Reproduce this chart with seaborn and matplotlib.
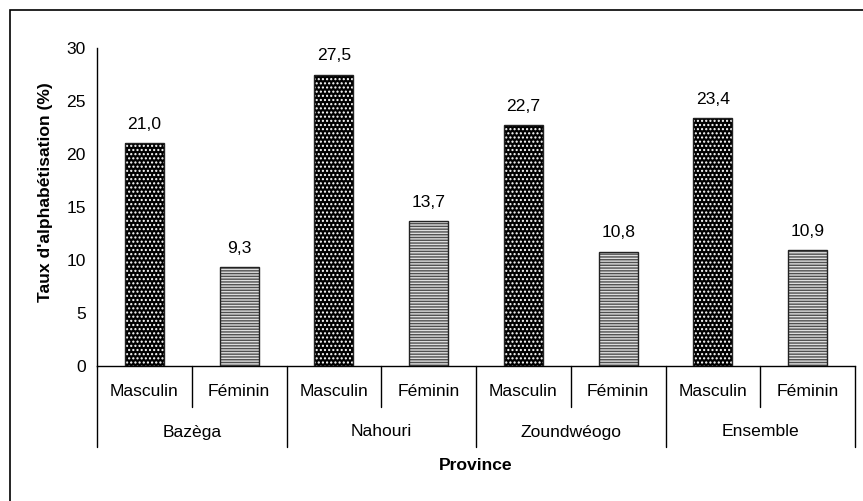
import matplotlib
matplotlib.use("Agg")
import matplotlib.pyplot as plt
from matplotlib.patches import Rectangle
import seaborn as sns
import pandas as pd

provinces = ["Bazèga", "Nahouri", "Zoundwéogo", "Ensemble"]
sexes = ["Masculin", "Féminin"]
masculin = [21.0, 27.5, 22.7, 23.4]
feminin = [9.3, 13.7, 10.8, 10.9]
yticks = [0, 5, 10, 15, 20, 25, 30]

rows = []
for p, m, f in zip(provinces, masculin, feminin):
    rows.append({"slot": f"{p}|Masculin", "sexe": "Masculin", "taux": m})
    rows.append({"slot": f"{p}|Féminin", "sexe": "Féminin", "taux": f})
df = pd.DataFrame(rows)
order = list(df["slot"])

sns.set_style("white")
plt.rcParams["font.family"] = ["Liberation Sans", "DejaVu Sans"]
plt.rcParams["hatch.linewidth"] = 1.0
plt.rcParams["text.color"] = "black"
plt.rcParams["axes.labelcolor"] = "black"
plt.rcParams["xtick.color"] = "black"
plt.rcParams["ytick.color"] = "black"
FS = 12.6

fig = plt.figure(figsize=(8.63, 5.01), dpi=100)
fig.patch.set_facecolor("white")
W, H = 863, 501
ax = fig.add_axes([97 / W, 1 - 366 / H, (855 - 97) / W, (366 - 48) / H])

sns.barplot(data=df, x="slot", y="taux", hue="sexe", order=order, hue_order=sexes,
            dodge=False, width=0.41, palette={"Masculin": "black", "Féminin": "#dedede"},
            legend=False, ax=ax, linewidth=0, saturation=1)

styles = {0: ("....", "white"), 1: ("------", "#505050")}
for ci, cont in enumerate(ax.containers):
    hatch, hc = styles[ci]
    for bar in cont:
        bar.set_hatch(hatch)
        bar.set_edgecolor(hc)
        bar.set_linewidth(0)
        ax.add_patch(Rectangle(bar.get_xy(), bar.get_width(), bar.get_height(),
                               fill=False, edgecolor="#222222", linewidth=1.0, zorder=3))
        v = bar.get_height()
        ax.annotate(f"{v:.1f}".replace(".", ","), (bar.get_x() + bar.get_width() / 2, v),
                    xytext=(0, 8), textcoords="offset points", ha="center", va="bottom",
                    fontsize=FS, color="black")

ax.set_xlim(-0.5, len(order) - 0.5)
ax.set_ylim(0, 30)
ax.set_yticks(yticks)
ax.set_yticklabels([str(t) for t in yticks], fontsize=FS)
ax.tick_params(axis="y", length=5, width=1.0, direction="out", pad=3, color="black",
               labelcolor="black")
ax.set_xticks(range(len(order)))
ax.set_xticklabels([s.split("|")[1] for s in order], fontsize=FS)
ax.tick_params(axis="x", length=0, pad=13, labelcolor="black")
ax.set_xlabel("")
ax.set_ylabel("Taux d'alphabétisation (%)", fontsize=FS, fontweight="bold", color="black")
ax.yaxis.set_label_coords(-0.058, (366 - 192) / (366 - 48))

for side in ["top", "right"]:
    ax.spines[side].set_visible(False)
for side in ["left", "bottom"]:
    ax.spines[side].set_color("black")
    ax.spines[side].set_linewidth(1.0)

ah = 366 - 48
trans = ax.get_xaxis_transform()
short = -(407 - 366) / ah
long_ = -(447 - 366) / ah
for i in range(len(order) + 1):
    xb = i - 0.5
    y1 = long_ if i % 2 == 0 else short
    ax.plot([xb, xb], [0, y1], transform=trans, color="black", lw=1.0, clip_on=False)

for gi, p in enumerate(provinces):
    ax.text(2 * gi + 0.5, -(432 - 366) / ah, p, transform=trans, ha="center", va="center",
            fontsize=FS, color="black")
ax.text(0.5, -(466 - 366) / ah, "Province", transform=ax.transAxes, ha="center", va="center",
        fontsize=FS, fontweight="bold", color="black")

fig.patches.append(Rectangle((10 / W, -0.2), 1.2, 1 - 10 / H + 0.2, transform=fig.transFigure,
                             fill=False, edgecolor="black", linewidth=1.2))

fig.savefig("out.png", dpi=100)
